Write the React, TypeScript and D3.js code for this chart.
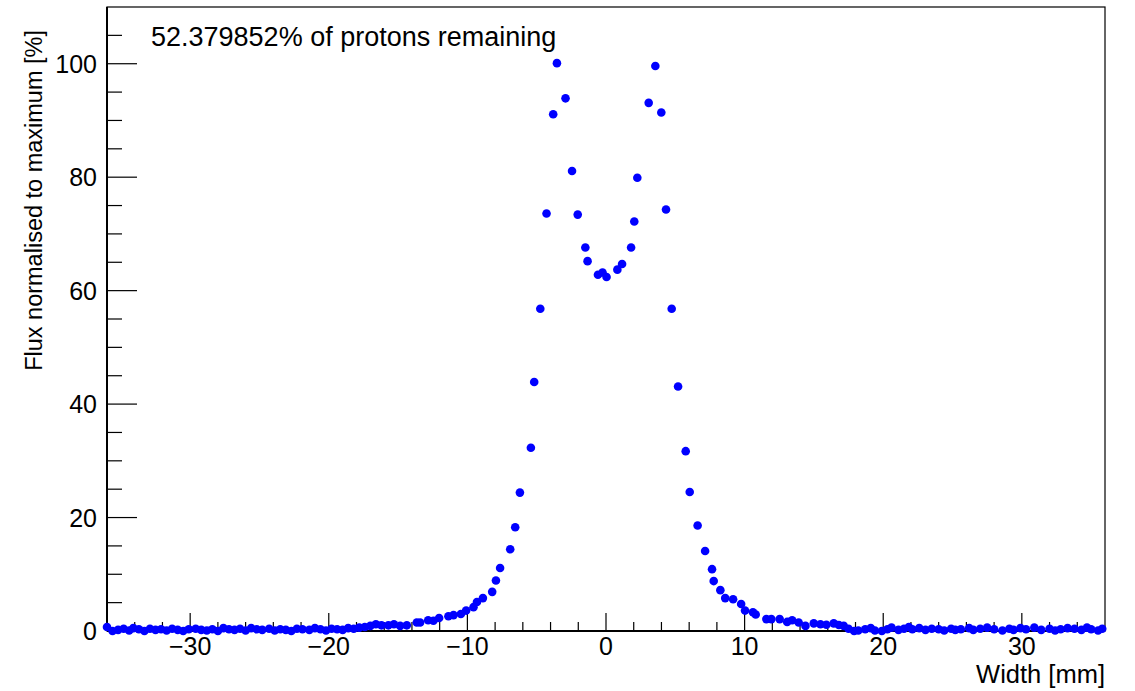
import { useEffect, useRef } from 'react'
import * as d3 from 'd3'

// Width [mm] of each point
const leftTailX = [-36.0, -35.6, -35.2, -34.8, -34.4, -34.1, -33.7, -33.3, -32.9, -32.5, -32.1, -31.7, -31.3, -30.9, -30.5, -30.1, -29.6, -29.2, -28.8, -28.4, -28.0, -27.6, -27.2, -26.8, -26.4, -26.0, -25.6, -25.2, -24.8, -24.3, -23.9, -23.5, -23.1, -22.7, -22.3, -21.9, -21.4, -21.0, -20.6, -20.2, -19.8, -19.4, -19.0, -18.6, -18.2, -17.8, -17.4, -17.0, -16.6, -16.2, -15.7, -15.3]
const leftTailY = [0.7, 0.0, 0.2, 0.4, 0.1, 0.5, 0.3, 0.0, 0.4, 0.2, 0.3, 0.1, 0.4, 0.2, 0.0, 0.3, 0.4, 0.2, 0.1, 0.3, 0.0, 0.5, 0.3, 0.2, 0.4, 0.1, 0.5, 0.3, 0.2, 0.4, 0.1, 0.3, 0.2, 0.0, 0.4, 0.3, 0.2, 0.5, 0.3, 0.1, 0.4, 0.3, 0.2, 0.5, 0.4, 0.6, 0.7, 0.9, 1.2, 1.0, 1.0, 1.2]

const coreX = [-14.85, -14.37, -13.65, -13.41, -12.83, -12.45, -12.04, -11.37, -11.0, -10.47, -10.09, -9.56, -9.31, -8.88, -8.21, -7.94, -7.64, -6.91, -6.55, -6.21, -5.42, -5.18, -4.74, -4.29, -3.81, -3.54, -2.92, -2.45, -2.04, -1.49, -1.33, -0.58, -0.25, 0.04, 0.82, 1.16, 1.81, 2.04, 2.26, 3.08, 3.56, 3.99, 4.33, 4.74, 5.2, 5.75, 6.04, 6.61, 7.15, 7.65, 7.77, 8.25, 8.6, 9.17, 9.75, 10.03, 10.6, 10.8, 11.57, 11.93, 12.53, 13.07, 13.43, 13.9, 14.39, 14.99]
const coreY = [0.9, 1.0, 1.5, 1.5, 1.9, 1.8, 2.3, 2.6, 2.8, 3.0, 3.6, 4.2, 5.1, 5.8, 6.9, 8.9, 11.1, 14.4, 18.3, 24.4, 32.3, 43.9, 56.8, 73.6, 91.1, 100.1, 93.9, 81.1, 73.4, 67.6, 65.2, 62.8, 63.2, 62.4, 63.7, 64.7, 67.6, 72.2, 79.9, 93.1, 99.6, 91.4, 74.3, 56.8, 43.1, 31.7, 24.5, 18.6, 14.1, 10.9, 8.8, 7.2, 5.8, 5.6, 4.75, 3.6, 3.3, 2.9, 2.1, 2.1, 2.1, 1.6, 1.9, 1.5, 0.9, 1.35]

const rightTailX = [15.47, 15.9, 16.43, 16.8, 17.15, 17.5, 17.9, 18.2, 18.7, 19.1, 19.4, 19.9, 20.3, 20.6, 21.1, 21.5, 21.85, 22.1, 22.6, 23.05, 23.5, 24.0, 24.4, 24.9, 25.2, 25.6, 26.2, 26.5, 27.0, 27.5, 28.0, 28.6, 29.1, 29.4, 29.9, 30.3, 30.9, 31.4, 32.0, 32.4, 32.8, 33.3, 33.8, 34.3, 34.7, 35.0, 35.5, 35.8]
const rightTailY = [1.2, 1.1, 1.35, 1.05, 0.9, 0.4, 0.0, 0.1, 0.3, 0.5, 0.1, 0.0, 0.3, 0.6, 0.2, 0.4, 0.7, 0.3, 0.5, 0.2, 0.4, 0.3, 0.1, 0.4, 0.2, 0.3, 0.5, 0.2, 0.4, 0.6, 0.3, 0.1, 0.4, 0.2, 0.5, 0.3, 0.6, 0.2, 0.4, 0.1, 0.3, 0.5, 0.4, 0.2, 0.6, 0.3, 0.1, 0.4]

const xMajorTicks = [-30, -20, -10, 0, 10, 20, 30]
const yMajorTicks = [0, 20, 40, 60, 80, 100]

const remainingText = '52.379852% of protons remaining'
const xTitle = 'Width [mm]'
const yTitle = 'Flux normalised to maximum [%]'

const FONT = '"Liberation Sans", Arial, Helvetica, sans-serif'

export default function App() {
   const ref = useRef<SVGSVGElement>(null)

   const W = 1135
   const H = 691
   const frame = { left: 107, right: 1105, top: 7, bottom: 631 }

   useEffect(() => {
      const svg = d3.select(ref.current)
      svg.selectAll('*').remove()

      const x = d3.scaleLinear().domain([-36, 36]).range([frame.left, frame.right])
      const y = d3.scaleLinear().domain([0, 110]).range([frame.bottom, frame.top])

      const xs = [...leftTailX, ...coreX, ...rightTailX]
      const ys = [...leftTailY, ...coreY, ...rightTailY]
      const data = xs.map((v, i) => ({ x: v, y: ys[i] }))

      svg.append('rect')
         .attr('width', W).attr('height', H).attr('fill', '#fff')

      // frame
      svg.append('rect')
         .attr('x', frame.left).attr('y', frame.top)
         .attr('width', frame.right - frame.left)
         .attr('height', frame.bottom - frame.top)
         .attr('fill', 'none').attr('stroke', '#000').attr('stroke-width', 1.2)

      // x axis ticks
      const xMinor = d3.range(-34, 36, 2).filter((v) => !xMajorTicks.includes(v))
      const gx = svg.append('g').attr('stroke', '#000').attr('stroke-width', 1.2)
      gx.selectAll('.xmaj').data(xMajorTicks).enter().append('line')
         .attr('x1', (d) => x(d)).attr('x2', (d) => x(d))
         .attr('y1', frame.bottom).attr('y2', frame.bottom - 18)
      gx.selectAll('.xmin').data(xMinor).enter().append('line')
         .attr('x1', (d) => x(d)).attr('x2', (d) => x(d))
         .attr('y1', frame.bottom).attr('y2', frame.bottom - 9)
      svg.append('line')
         .attr('x1', frame.left).attr('x2', frame.right)
         .attr('y1', frame.bottom).attr('y2', frame.bottom)
         .attr('stroke', '#000').attr('stroke-width', 2)

      svg.selectAll('.xlabel').data(xMajorTicks).enter().append('text')
         .attr('x', (d) => x(d)).attr('y', 655)
         .attr('text-anchor', 'middle')
         .style('font-family', FONT).style('font-size', '25px')
         .text((d) => (d < 0 ? '\u2212' + Math.abs(d) : String(d)))

      // y axis ticks
      const yMinor = d3.range(5, 110, 5).filter((v) => !yMajorTicks.includes(v))
      const gy = svg.append('g').attr('stroke', '#000').attr('stroke-width', 1.2)
      gy.selectAll('.ymaj').data(yMajorTicks).enter().append('line')
         .attr('x1', frame.left).attr('x2', frame.left + 30)
         .attr('y1', (d) => y(d)).attr('y2', (d) => y(d))
      gy.selectAll('.ymin').data(yMinor).enter().append('line')
         .attr('x1', frame.left).attr('x2', frame.left + 15)
         .attr('y1', (d) => y(d)).attr('y2', (d) => y(d))
      svg.append('line')
         .attr('x1', frame.left).attr('x2', frame.left)
         .attr('y1', frame.top).attr('y2', frame.bottom)
         .attr('stroke', '#000').attr('stroke-width', 2)

      svg.selectAll('.ylabel').data(yMajorTicks).enter().append('text')
         .attr('x', 97).attr('y', (d) => y(d) + 9)
         .attr('text-anchor', 'end')
         .style('font-family', FONT).style('font-size', '25px')
         .text((d) => String(d))

      // axis titles
      svg.append('text')
         .attr('x', frame.right).attr('y', 683)
         .attr('text-anchor', 'end')
         .style('font-family', FONT).style('font-size', '25.5px')
         .text(xTitle)

      svg.append('text')
         .attr('transform', `translate(42, 30) rotate(-90)`)
         .attr('text-anchor', 'end')
         .style('font-family', FONT).style('font-size', '23.5px')
         .text(yTitle)

      // points
      svg.selectAll('.pt').data(data).enter().append('circle')
         .attr('cx', (d) => x(d.x)).attr('cy', (d) => y(d.y))
         .attr('r', 4.3).attr('fill', '#0000ff')

      // annotation
      svg.append('text')
         .attr('x', 151).attr('y', 46)
         .style('font-family', FONT).style('font-size', '27px')
         .text(remainingText)
   }, [])

   return (
      <svg ref={ref} width={W} height={H}
         style={{ position: 'absolute', left: 0, top: 0, display: 'block' }} />
   )
}
